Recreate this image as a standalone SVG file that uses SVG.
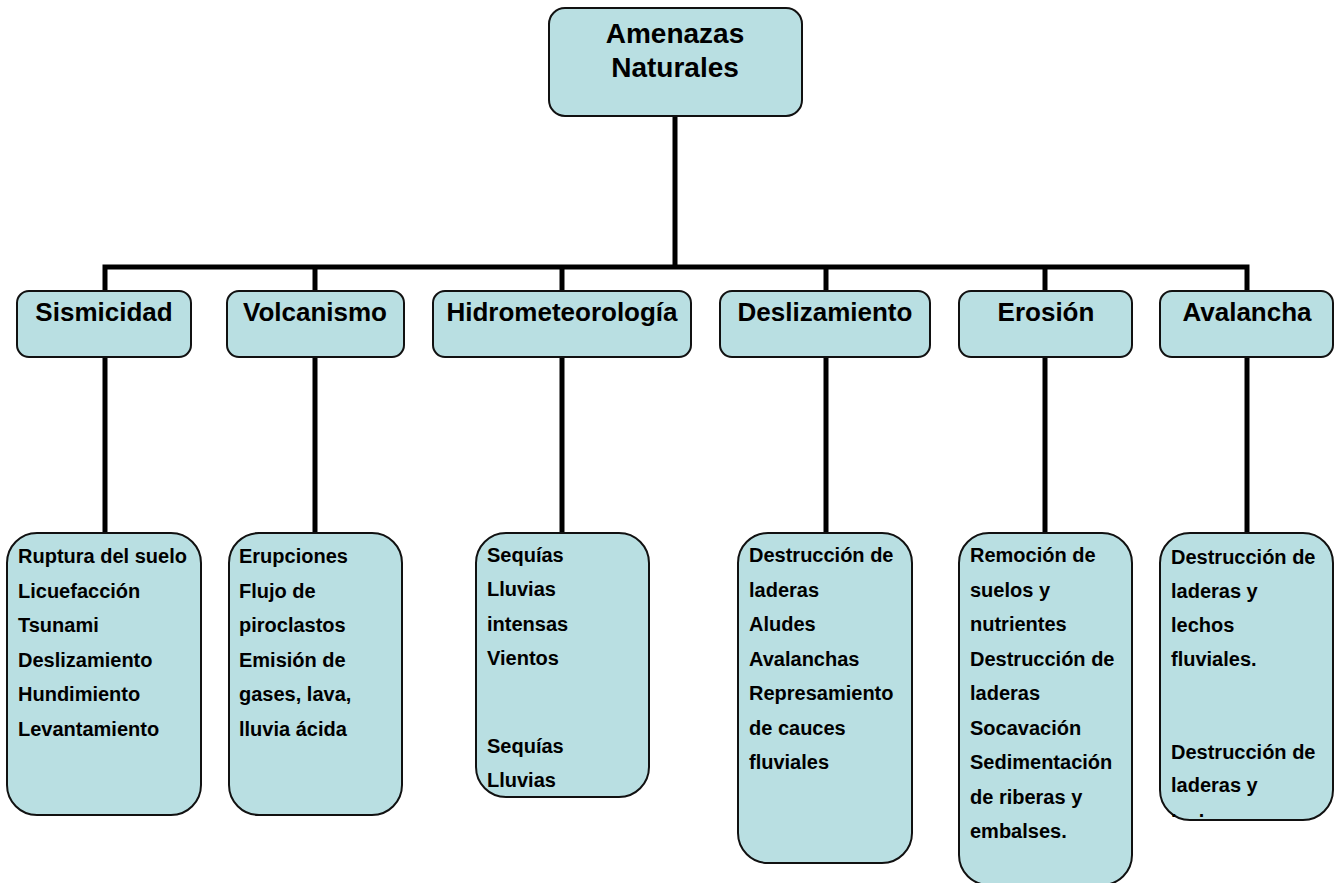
<svg xmlns="http://www.w3.org/2000/svg" width="1339" height="883" viewBox="0 0 1339 883">
<style>
.box{fill:#B9DFE2;stroke:#111;stroke-width:2}
.ln{fill:none;stroke:#000;stroke-width:5}
text{font-family:"Liberation Sans",Arial,sans-serif;font-weight:bold;fill:#000}
.t1{font-size:28px;text-anchor:middle}
.t2{font-size:26px;text-anchor:middle}
.t3{font-size:20px}
</style>
<defs>
<clipPath id="clipAv"><rect x="1160" y="533" width="173" height="284"/></clipPath>
</defs>
<g id="connectors">
<path class="ln" d="M675 116 V267"/>
<path class="ln" d="M105 291 V267 H1247 V291"/>
<path class="ln" d="M315 267 V291"/>
<path class="ln" d="M562 267 V291"/>
<path class="ln" d="M826 267 V291"/>
<path class="ln" d="M1045 267 V291"/>
<path class="ln" d="M105 357 V534"/>
<path class="ln" d="M315 357 V534"/>
<path class="ln" d="M562 357 V534"/>
<path class="ln" d="M826 357 V534"/>
<path class="ln" d="M1045 357 V534"/>
<path class="ln" d="M1247 357 V534"/>
</g>
<g id="root">
<rect class="box" x="549" y="8" width="253" height="108" rx="16"/>
<text class="t1" x="675" y="43">Amenazas</text>
<text class="t1" x="675" y="77">Naturales</text>
</g>
<g id="sismicidad">
<rect class="box" x="17" y="291" width="174" height="66" rx="12"/>
<text class="t2" x="104" y="321">Sismicidad</text>
</g>
<g id="volcanismo">
<rect class="box" x="227" y="291" width="177" height="66" rx="12"/>
<text class="t2" x="315" y="321">Volcanismo</text>
</g>
<g id="hidrometeorologia">
<rect class="box" x="433" y="291" width="258" height="66" rx="12"/>
<text class="t2" x="562" y="321">Hidrometeorología</text>
</g>
<g id="deslizamiento">
<rect class="box" x="720" y="291" width="210" height="66" rx="12"/>
<text class="t2" x="825" y="321">Deslizamiento</text>
</g>
<g id="erosion">
<rect class="box" x="959" y="291" width="173" height="66" rx="12"/>
<text class="t2" x="1046" y="321">Erosión</text>
</g>
<g id="avalancha">
<rect class="box" x="1160" y="291" width="173" height="66" rx="12"/>
<text class="t2" x="1247" y="321">Avalancha</text>
</g>
<g id="sismicidad-list">
<rect class="box" x="7" y="533" width="194" height="282" rx="30"/>
<text class="t3" x="18" y="563">Ruptura del suelo</text>
<text class="t3" x="18" y="597.5">Licuefacción</text>
<text class="t3" x="18" y="632">Tsunami</text>
<text class="t3" x="18" y="666.5">Deslizamiento</text>
<text class="t3" x="18" y="701">Hundimiento</text>
<text class="t3" x="18" y="735.5">Levantamiento</text>
</g>
<g id="volcanismo-list">
<rect class="box" x="229" y="533" width="173" height="282" rx="30"/>
<text class="t3" x="239" y="563">Erupciones</text>
<text class="t3" x="239" y="597.5">Flujo de</text>
<text class="t3" x="239" y="632">piroclastos</text>
<text class="t3" x="239" y="666.5">Emisión de</text>
<text class="t3" x="239" y="701">gases, lava,</text>
<text class="t3" x="239" y="735.5">lluvia ácida</text>
</g>
<g id="hidrometeorologia-list">
<rect class="box" x="476" y="533" width="173" height="264" rx="30"/>
<text class="t3" x="487" y="562">Sequías</text>
<text class="t3" x="487" y="596">Lluvias</text>
<text class="t3" x="487" y="631">intensas</text>
<text class="t3" x="487" y="665">Vientos</text>
<text class="t3" x="487" y="753">Sequías</text>
<text class="t3" x="487" y="787">Lluvias</text>
</g>
<g id="deslizamiento-list">
<rect class="box" x="738" y="533" width="174" height="330" rx="30"/>
<text class="t3" x="749" y="562">Destrucción de</text>
<text class="t3" x="749" y="596.5">laderas</text>
<text class="t3" x="749" y="631">Aludes</text>
<text class="t3" x="749" y="665.5">Avalanchas</text>
<text class="t3" x="749" y="700">Represamiento</text>
<text class="t3" x="749" y="734.5">de cauces</text>
<text class="t3" x="749" y="769">fluviales</text>
</g>
<g id="erosion-list">
<rect class="box" x="959" y="533" width="173" height="352" rx="30"/>
<text class="t3" x="970" y="562">Remoción de</text>
<text class="t3" x="970" y="596.5">suelos y</text>
<text class="t3" x="970" y="631">nutrientes</text>
<text class="t3" x="970" y="665.5">Destrucción de</text>
<text class="t3" x="970" y="700">laderas</text>
<text class="t3" x="970" y="734.5">Socavación</text>
<text class="t3" x="970" y="769">Sedimentación</text>
<text class="t3" x="970" y="803.5">de riberas y</text>
<text class="t3" x="970" y="838">embalses.</text>
</g>
<g id="avalancha-list">
<rect class="box" x="1160" y="533" width="173" height="287" rx="30"/>
<text class="t3" x="1171" y="564">Destrucción de</text>
<text class="t3" x="1171" y="598">laderas y</text>
<text class="t3" x="1171" y="632">lechos</text>
<text class="t3" x="1171" y="666">fluviales.</text>
<text class="t3" x="1171" y="759">Destrucción de</text>
<text class="t3" x="1171" y="792">laderas y</text>
<text class="t3" x="1171" y="829" clip-path="url(#clipAv)">lechos</text>
</g>
</svg>
